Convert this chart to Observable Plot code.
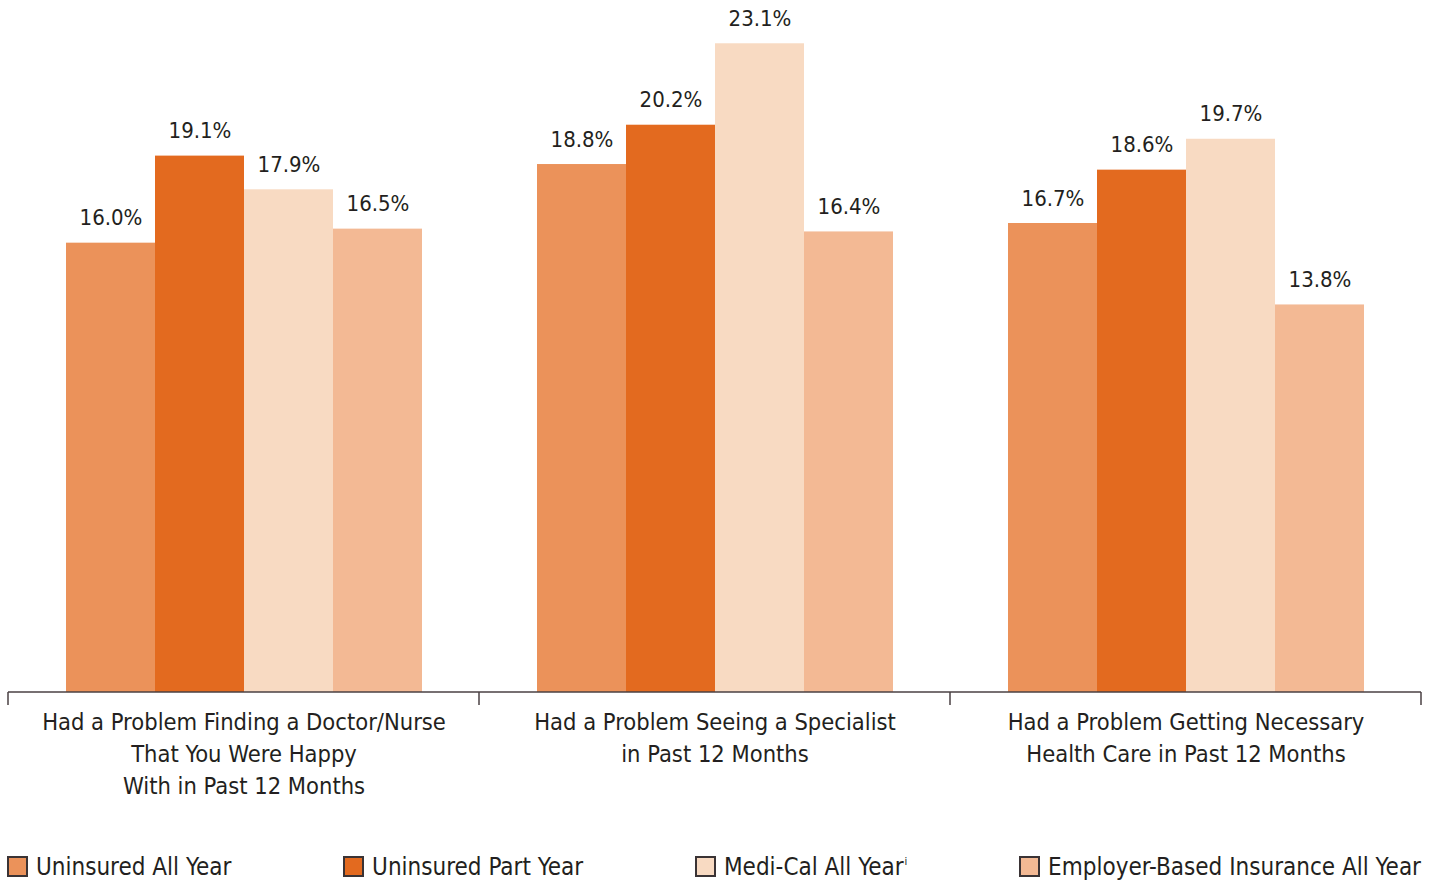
<!DOCTYPE html>
<html>
<head>
<meta charset="utf-8">
<script src="https://cdn.jsdelivr.net/npm/d3@7"></script>
<script src="https://cdn.jsdelivr.net/npm/@observablehq/plot@0.6"></script>
<style>
  html, body { margin: 0; padding: 0; background: #fff; }
  body { width: 1439px; height: 880px; overflow: hidden; font-family: "Liberation Sans Narrow", "DejaVu Sans Condensed", "Roboto", sans-serif; color: #231f20; }
  #legend { display: flex; justify-content: space-between; padding: 0 18px 0 7px; margin-top: 4px; height: 35px; align-items: center; font-size: 24px; }
  .item { display: flex; align-items: center; white-space: nowrap; }
  .sw { width: 17px; height: 17px; border: 2px solid #3a3335; margin-right: 8px; box-sizing: content-box; }
  sup { font-size: 11px; vertical-align: 10px; margin-left: 1px; }
</style>
</head>
<body>
<div id="chart"></div>
<div id="legend"></div>
<script>
const categories = [
  "Had a Problem Finding a Doctor/Nurse\nThat You Were Happy\nWith in Past 12 Months",
  "Had a Problem Seeing a Specialist\nin Past 12 Months",
  "Had a Problem Getting Necessary\nHealth Care in Past 12 Months"
];
const seriesNames = ["Uninsured All Year", "Uninsured Part Year", "Medi-Cal All Year", "Employer-Based Insurance All Year"];
const seriesColors = ["#eb925a", "#e36a1f", "#f8dac2", "#f3b994"];
const uninsuredAllYear = [16.0, 18.8, 16.7];
const uninsuredPartYear = [19.1, 20.2, 18.6];
const mediCalAllYear = [17.9, 23.1, 19.7];
const employerAllYear = [16.5, 16.4, 13.8];

const seriesValues = [uninsuredAllYear, uninsuredPartYear, mediCalAllYear, employerAllYear];
const data = [];
categories.forEach((c, i) => seriesNames.forEach((s, j) => data.push({category: c, series: s, value: seriesValues[j][i]})));

const textColor = "#231f20";
const fontFamily = '"Liberation Sans Narrow", "DejaVu Sans Condensed", Roboto, sans-serif';

const plot = Plot.plot({
  width: 1439,
  height: 845,
  marginTop: 18,
  marginBottom: 153,
  marginLeft: 7,
  marginRight: 18,
  style: {fontFamily, color: textColor, background: "#fff"},
  fx: {domain: categories, padding: 0, label: null},
  x: {domain: seriesNames, paddingInner: 0, paddingOuter: 0.63, axis: null},
  y: {domain: [0, 24], axis: null},
  color: {domain: seriesNames, range: seriesColors},
  marks: [
    Plot.barY(data, {fx: "category", x: "series", y: "value", fill: "series"}),
    Plot.text(data, {fx: "category", x: "series", y: "value", text: d => d.value.toFixed(1) + "%", dy: -25, fontSize: 22, fill: textColor, textAnchor: "middle", lineAnchor: "middle"}),
    Plot.axisFx({anchor: "bottom", tickSize: 0, tickPadding: 15, fontSize: 23.5, lineHeight: 1.36, label: null, fill: textColor, lineAnchor: "top"})
  ]
});

document.getElementById("chart").appendChild(plot);

// baseline and group boundary ticks drawn from the library's scales
const fx = plot.scale("fx");
const y = plot.scale("y");
const svg = d3.select(plot);
const y0 = y.apply(0);
const bw = fx.bandwidth;
const g = svg.append("g").attr("stroke", "#4a4143").attr("stroke-width", 1.5);
const bounds = categories.map(c => fx.apply(c)).concat([fx.apply(categories[categories.length - 1]) + bw]);
const minX = d3.min(bounds);
const maxX = d3.max(bounds);
g.append("line").attr("x1", minX).attr("x2", maxX).attr("y1", y0).attr("y2", y0);
bounds.forEach(b => g.append("line").attr("x1", b).attr("x2", b).attr("y1", y0).attr("y2", y0 + 13));

// legend
const legend = document.getElementById("legend");
seriesNames.forEach((s, i) => {
  const item = document.createElement("div");
  item.className = "item";
  const sw = document.createElement("span");
  sw.className = "sw";
  sw.style.background = seriesColors[i];
  const label = document.createElement("span");
  label.textContent = s;
  item.appendChild(sw);
  item.appendChild(label);
  if (s === "Medi-Cal All Year") {
    const sup = document.createElement("sup");
    sup.textContent = "i";
    label.appendChild(sup);
  }
  legend.appendChild(item);
});
</script>
</body>
</html>
